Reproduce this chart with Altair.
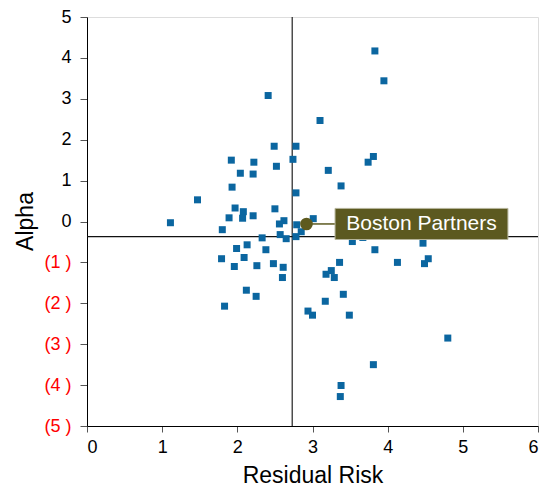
import altair as alt
import pandas as pd

risk = [2.41, 2.49, 2.78, 1.92, 2.22, 2.74, 2.52, 2.04, 2.21, 1.93, 2.78, 1.47,
        1.97, 2.08, 2.50, 1.89, 2.07, 2.21, 1.11, 2.62, 2.56, 1.80, 2.79, 2.85,
        2.57, 2.65, 2.78, 2.33, 2.13, 1.99, 2.38, 1.79, 2.09, 1.96, 2.26, 2.48,
        2.61, 2.60, 2.12, 2.25, 1.83, 2.94, 3.00, 3.01,
        3.83, 3.95, 3.10, 3.81, 3.74, 3.21, 3.38, 3.53, 3.67, 4.47, 3.83, 3.36,
        4.13, 4.49, 4.54, 3.25, 3.18, 3.29, 3.41, 3.17, 3.49, 4.80, 3.81, 3.38, 3.37]
alpha = [3.08, 1.84, 1.84, 1.50, 1.45, 1.52, 1.35, 1.18, 1.16, 0.84, 0.70, 0.53,
         0.33, 0.24, 0.31, 0.09, 0.08, 0.14, -0.03, 0.02, -0.06, -0.20, -0.08, -0.25,
         -0.32, -0.42, -0.37, -0.40, -0.57, -0.66, -0.69, -0.91, -0.88, -1.10, -1.08, -1.03,
         -1.12, -1.37, -1.68, -1.83, -2.07, -2.19, -2.29, 0.07,
         4.17, 3.44, 2.47, 1.59, 1.45, 1.25, 0.87, -0.49, -0.39, -0.53, -0.69, -1.00,
         -1.00, -1.03, -0.91, -1.20, -1.29, -1.37, -1.78, -1.95, -2.29, -2.85, -3.50, -4.01, -4.28]

mean_risk = [2.73]
mean_alpha = [-0.37]

highlight_name = ["Boston Partners"]
highlight_risk = [2.92]
highlight_alpha = [-0.06]

# label box placement (data units)
box_x = [3.30]
box_x2 = [5.60]
box_y = [-0.44]
box_y2 = [0.32]

df = pd.DataFrame({"risk": risk, "alpha": alpha})
hl = pd.DataFrame({"name": highlight_name, "risk": highlight_risk, "alpha": highlight_alpha,
                   "bx": box_x, "bx2": box_x2, "by": box_y, "by2": box_y2,
                   "tx": [(box_x[0] + box_x2[0]) / 2]})
vline = pd.DataFrame({"x": mean_risk})
hline = pd.DataFrame({"y": mean_alpha})

FONT = "Liberation Sans"

xscale = alt.Scale(domain=[0, 6], nice=False, zero=False)
yscale = alt.Scale(domain=[-5, 5], nice=False, zero=False)

xaxis = alt.Axis(title="Residual Risk", values=[0, 1, 2, 3, 4, 5, 6], grid=False, format="d",
                 labelFontSize=18, titleFontSize=23, labelFont=FONT, titleFont=FONT,
                 titleFontWeight="normal", labelColor="black", titleColor="black",
                 domainColor="black", tickColor="#555555", tickSize=6, labelPadding=6,
                 titleY=49, titleBaseline="middle")
yaxis = alt.Axis(title="Alpha", values=[-5, -4, -3, -2, -1, 0, 1, 2, 3, 4, 5], grid=False,
                 labelExpr="datum.value < 0 ? '(' + abs(datum.value) + ' )' : datum.value",
                 labelColor=alt.condition("datum.value < 0", alt.value("#ff0000"), alt.value("black")),
                 labelFontSize=18, titleFontSize=23, labelFont=FONT, titleFont=FONT,
                 titleFontWeight="normal", titleColor="black",
                 domainColor="black", tickColor="#555555", tickSize=7, labelPadding=9,
                 titleX=-62, titleY=204, titleAngle=-90, titleAlign="center",
                 titleBaseline="middle")

base_x = alt.X("risk:Q", scale=xscale, axis=xaxis)
base_y = alt.Y("alpha:Q", scale=yscale, axis=yaxis)

vrule = alt.Chart(vline).mark_rule(color="#222222", strokeWidth=1.2).encode(
    x=alt.X("x:Q", scale=xscale, axis=xaxis))
hrule = alt.Chart(hline).mark_rule(color="#111111", strokeWidth=1.2).encode(
    y=alt.Y("y:Q", scale=yscale, axis=yaxis))

pts = alt.Chart(df).mark_square(size=49, color="#0b66a0", opacity=1, filled=True).encode(
    x=base_x, y=base_y)

leader = alt.Chart(hl).mark_rule(color="#5c5920", strokeWidth=1.5).encode(
    x="risk:Q", x2="bx:Q", y="alpha:Q")
box = alt.Chart(hl).mark_rect(color="#5c5920", stroke="#b5b49a", strokeWidth=1).encode(
    x="bx:Q", x2="bx2:Q", y="by:Q", y2="by2:Q")
txt = alt.Chart(hl).mark_text(color="white", fontSize=21, font=FONT, align="center",
                              baseline="middle").encode(
    x="tx:Q", y="alpha:Q", text="name:N")
dot = alt.Chart(hl).mark_circle(size=160, color="#5e5a1f", opacity=1).encode(
    x="risk:Q", y="alpha:Q")

chart = alt.layer(vrule, hrule, pts, leader, box, txt, dot).properties(
    width=451, height=409,
    padding={"left": 79, "top": 9, "right": 2, "bottom": 63},
    autosize=alt.AutoSizeParams(type="none"),
).configure_view(fill="#e8e8e8", stroke="black", strokeWidth=1.5).configure(
    background="white")

chart.save("out.html", embed_options={"renderer": "svg", "actions": False})
